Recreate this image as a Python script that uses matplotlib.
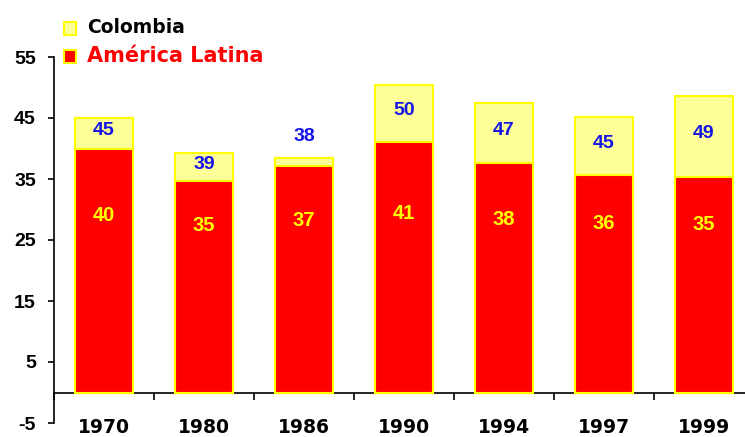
import numpy as np
import matplotlib
matplotlib.use("Agg")
import matplotlib.pyplot as plt
from matplotlib.patches import Rectangle

plt.rcParams['font.family'] = ['Liberation Sans', 'DejaVu Sans']
plt.rcParams['font.weight'] = 'bold'

# --- data ---
years = ["1970", "1980", "1986", "1990", "1994", "1997", "1999"]
colombia = [45.0, 39.2, 38.4, 50.4, 47.4, 45.2, 48.6]
america_latina = [40.0, 34.6, 37.2, 41.0, 37.6, 35.6, 35.4]
yticks = [-5, 5, 15, 25, 35, 45, 55]

# colours
c_col = "#FFFF99"
c_edge = "#FFFF00"
c_al = "#FF0000"
c_blue = "#1414E6"

W, H = 745, 437
fig = plt.figure(figsize=(W / 100, H / 100), dpi=100)
ax = fig.add_axes([54 / W, 1 - 423 / H, 700 / W, 366 / H])

x = np.arange(len(years))
w = 0.58
ax.bar(x, colombia, width=w, color=c_col, edgecolor=c_edge, linewidth=1.5, zorder=2)
ax.bar(x, america_latina, width=w, color=c_al, edgecolor=c_edge, linewidth=1.5, zorder=3)

# value labels
for xi, c, a in zip(x, colombia, america_latina):
    if c - a < 3:
        yc = c + 3.6
    else:
        yc = (c + a) / 2 + 0.5
    ax.text(xi, yc, f"{round(c):d}", ha="center", va="center", color=c_blue,
            fontsize=14, fontweight="bold", zorder=4)
    ax.text(xi, 0.3 * a + 17, f"{round(a):d}", ha="center", va="center", color=c_edge,
            fontsize=14.5, fontweight="bold", zorder=4)

ax.set_xlim(-0.5, len(years) - 0.5)
ax.set_ylim(-5, 55)

ax.spines["top"].set_visible(False)
ax.spines["right"].set_visible(False)
ax.spines["bottom"].set_position(("data", 0))
ax.spines["left"].set_linewidth(1.2)
ax.spines["bottom"].set_linewidth(1.2)

ax.set_yticks(yticks)
ax.set_yticklabels([str(t) for t in yticks], fontsize=14, fontweight="bold")
ax.tick_params(axis="y", direction="out", length=4, width=1.2, pad=9)

ax.set_xticks(x)
ax.set_xticklabels(years, fontsize=13.5, fontweight="bold", family="DejaVu Sans")
ax.set_xticks(np.arange(len(years) + 1) - 0.5, minor=True)
ax.tick_params(axis="x", which="major", length=0, pad=18.5)
ax.tick_params(axis="x", which="minor", direction="out", length=5, width=1.2)

# legend drawn by hand (two rows, different colours and sizes)
fig.add_artist(Rectangle((64 / W, 1 - 35 / H), 12 / W, 13 / H, transform=fig.transFigure,
                         facecolor=c_col, edgecolor=c_edge, linewidth=1.5))
fig.add_artist(Rectangle((64 / W, 1 - 63 / H), 12 / W, 13 / H, transform=fig.transFigure,
                         facecolor=c_al, edgecolor=c_edge, linewidth=1.5))
fig.text(87 / W, 1 - 33 / H, "Colombia", color="black", fontsize=13.5, fontweight="bold",
         family="DejaVu Sans", va="baseline", ha="left")
fig.text(87 / W, 1 - 62 / H, "América Latina", color=c_al, fontsize=15, fontweight="bold",
         family="DejaVu Sans", va="baseline", ha="left")

fig.savefig("out.png", dpi=100)
